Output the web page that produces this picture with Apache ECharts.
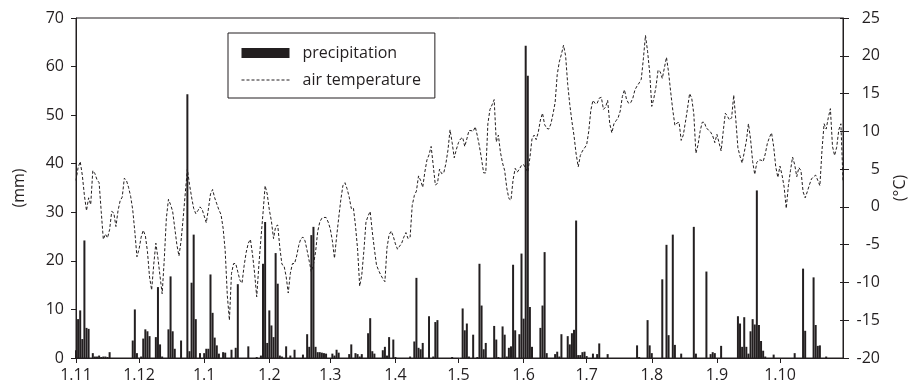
<!DOCTYPE html>
<html><head><meta charset="utf-8">
<script src="https://cdn.jsdelivr.net/npm/echarts@6/dist/echarts.min.js"></script>
<style>html,body{margin:0;padding:0;background:#fff}#c{width:916px;height:389px}</style>
</head><body><div id="c"></div>
<script>
// Daily record, 1 Nov 2007 – 31 Oct 2008 (366 days)
const startYear = 2007, startMonthIndex = 10, startDay = 1, dayCount = 366;
const tickLabels = ['1.11','1.12','1.1','1.2','1.3','1.4','1.5','1.6','1.7','1.8','1.9','1.10'];

const precipitation = [
1.6,8.0,9.8,3.9,24.2,6.2,6.0,0,1.0,0.3,
0.3,0.5,0.2,0.3,0.3,0.2,1.2,0,0,0,
0,0,0,0,0,0,0,3.6,10.0,1.0,
0,0.3,4.0,5.9,5.5,4.5,0,0,4.3,14.6,
2.8,0.3,0,0,5.9,16.8,5.5,1.9,0,0,
3.6,0,0,54.3,1.4,15.5,25.4,8.0,0,1.0,
0,1.0,1.9,1.9,17.2,9.3,4.2,2.6,0.9,0,
1.2,1.1,0,0,1.7,0,2.1,15.2,0,0,
0,0,2.4,0,0,0,0.2,0,0.5,19.4,
28.0,3.1,9.8,6.7,4.3,21.6,15.3,0.5,0.3,0,
2.4,0,0.5,0,1.7,0,0,0,0.7,0,
4.9,2.3,25.3,27.0,2.3,1.2,1.2,1.1,1.0,0.9,
0,0,0.9,0.5,1.7,1.1,0,0,0,0,
0.8,2.8,0,1.0,0.8,0.3,0.8,0,0,5.1,
8.2,1.4,0.9,0,0,0,1.6,2.3,0.5,4.3,
0,3.8,0.2,0,0,0,0,0,0,0.3,
0,3.4,16.5,2.1,1.8,3.1,0,0,8.6,0,
0.3,7.4,7.8,0,0,0,0,0,0,0.2,
0,0,0,0,10.2,5.7,7.1,0.3,0,4.8,
0,0.2,19.4,10.8,1.8,3.1,0,0,0,6.6,
3.8,0.2,0,6.5,4.8,0.3,2.1,2.4,19.2,5.7,
0,4.9,21.5,8.1,64.3,58.1,10.5,2.3,0,0,
0,6.2,10.8,21.8,1.0,0,0,0,0.8,1.3,
0.3,4.9,0,0,4.5,2.8,5.1,5.8,28.3,0.6,
0.6,1.2,1.3,0.4,0,0,0.9,0,0.8,3.0,
0,0,0,0.8,0,0,0,0,0,0,
0,0,0,0,0,0,0,2.6,0.2,0,
0,0,7.8,2.6,1.0,0,0,0,0,16.2,
0,23.3,4.7,0,25.4,2.7,0,0,0.9,0,
0,0,0,0,27.0,0.9,0,0,0,0,
17.8,0,0.8,1.2,1.0,0,0,2.5,0,0,
0,0,0,0,0,8.6,7.1,2.3,8.4,2.3,
0.9,5.5,8.0,6.9,34.5,6.8,3.5,1.5,0.3,0,
0,0,0.7,0,0,0,0,0,0,0,
0,0,1.0,0,0,0,18.4,5.6,0,0,
0,16.6,6.8,2.5,2.6,0,0,0.3,0,0,
0,0,0,0,0,0
];

const airTemperature = [
3.5,5.2,6.0,4.2,1.5,-0.5,1.2,0.3,4.8,4.4,
3.6,3.2,-0.6,-4.3,-3.6,-4.1,-3.0,-0.6,-0.8,-2.6,
-0.5,0.8,1.3,3.8,3.5,2.6,1.4,-0.4,-3.3,-6.6,
-5.6,-4.0,-3.1,-3.8,-5.9,-9.3,-11.0,-7.6,-4.8,-6.8,
-9.2,-11.5,-7.0,-1.5,1.0,0.3,-0.6,-2.8,-5.0,-6.5,
-4.5,-1.5,1.8,5.0,3.0,1.3,-0.2,-0.9,-0.5,0.0,
-0.3,-1.2,-2.1,-0.3,1.7,2.3,1.2,0.4,-0.4,-1.0,
-2.8,-5.8,-11.7,-15.0,-8.8,-7.5,-7.5,-8.6,-9.7,-10.1,
-7.8,-6.0,-4.8,-4.3,-6.3,-8.8,-11.9,-7.8,-4.2,-0.8,
2.8,1.7,-0.4,-1.9,-4.2,-2.6,-2.4,-5.4,-7.6,-7.8,
-9.2,-11.4,-8.8,-7.5,-7.5,-6.5,-5.1,-4.2,-4.0,-4.5,
-5.8,-7.2,-8.6,-7.6,-6.0,-3.3,-2.0,-1.5,-1.4,-1.4,
-2.0,-2.9,-4.5,-6.8,-4.0,-1.5,0.9,2.8,3.2,2.4,
1.3,-0.2,-0.1,-2.5,-5.6,-10.5,-9.0,-5.8,-2.0,-1.2,
-0.6,-3.3,-5.6,-7.7,-8.4,-9.0,-9.5,-9.9,-5.4,-3.7,
-3.2,-3.9,-4.9,-5.6,-5.2,-4.8,-4.0,-3.4,-4.2,-4.0,
0.2,1.5,2.1,4.1,3.5,2.6,4.6,6.2,6.9,8.0,
5.5,2.9,3.1,5.0,4.4,4.5,5.7,7.5,10.2,8.5,
6.5,7.6,8.5,9.0,9.2,8.0,9.0,10.1,10.1,10.0,
10.6,9.4,8.0,6.3,4.5,4.5,11.0,12.9,13.5,14.2,
8.6,9.5,7.2,5.8,4.8,2.5,1.1,0.9,3.6,5.1,
4.6,5.0,5.5,5.6,5.1,4.6,6.5,9.0,9.5,8.9,
9.9,11.5,12.4,10.9,10.4,10.3,11.0,12.3,13.8,17.5,
19.2,20.2,21.4,20.0,16.2,13.5,11.3,9.4,7.0,5.3,
6.8,7.4,7.8,8.2,10.0,12.8,14.1,13.7,13.7,14.4,
14.5,12.9,13.2,14.1,11.0,9.8,11.0,11.4,11.8,12.7,
14.6,15.5,14.2,13.7,13.8,14.4,15.5,16.0,16.4,16.9,
19.6,22.7,20.6,17.8,13.3,14.4,15.9,18.1,17.9,17.0,
18.4,19.8,17.8,15.2,12.8,10.8,11.1,11.2,8.8,9.5,
11.2,13.0,15.0,14.4,12.3,7.1,8.2,10.0,11.2,11.2,
10.4,10.2,9.9,9.4,8.5,9.6,8.5,7.4,10.0,12.4,
12.0,11.5,11.8,14.8,11.5,7.8,6.7,5.8,7.2,8.7,
11.0,9.0,6.0,4.3,5.9,6.2,6.2,6.0,7.0,8.4,
9.2,9.8,8.0,5.3,3.9,5.4,4.2,2.6,-0.2,2.8,
4.8,6.6,5.6,4.0,5.2,4.8,2.0,1.2,2.0,2.9,
3.7,4.0,4.2,3.5,2.8,7.5,11.0,10.3,11.8,13.0,
8.0,6.8,7.9,10.2,11.0,3.5
];

const categories = [];
for (let i = 0; i < dayCount; i++) {
  const d = new Date(Date.UTC(startYear, startMonthIndex, startDay + i));
  categories.push(d.getUTCDate() + '.' + (d.getUTCMonth() + 1));
}
const tickSet = new Set(tickLabels);
const ink = '#231f20';
const font = "'Open Sans', 'Noto Sans', sans-serif";
const fs = 16;

const chart = echarts.init(document.getElementById('c'), null, {renderer: 'canvas'});
chart.setOption({
  animation: false,
  backgroundColor: '#fff',
  textStyle: {fontFamily: font, color: ink},
  grid: {left: 76, right: 73, top: 18, bottom: 31, show: true, borderColor: ink, borderWidth: 1, backgroundColor: 'transparent'},
  legend: {
    orient: 'vertical', left: 228, top: 33, padding: [12, 14, 10, 13],
    borderColor: ink, borderWidth: 1, itemWidth: 48, itemHeight: 10, itemGap: 11,
    textStyle: {color: ink, fontSize: fs, fontFamily: font, padding: [0, 0, 0, 8]},
    data: [
      {name: 'precipitation', icon: 'rect'},
      {name: 'air temperature', itemStyle: {opacity: 0}, lineStyle: {color: ink, width: 1, type: [3, 2], opacity: 1}}
    ]
  },
  xAxis: {
    type: 'category', data: categories, boundaryGap: false,
    axisLine: {lineStyle: {color: ink, width: 1}},
    axisTick: {interval: (i, v) => tickSet.has(v), length: 5, lineStyle: {color: ink}},
    axisLabel: {interval: (i, v) => tickSet.has(v), color: ink, fontSize: fs, fontFamily: font, margin: 9},
    splitLine: {show: false}
  },
  yAxis: [
    {type: 'value', min: 0, max: 70, interval: 10, position: 'left',
     name: '(mm)', nameLocation: 'middle', nameGap: 49,
     nameTextStyle: {color: ink, fontSize: fs, fontFamily: font},
     axisLine: {show: true, lineStyle: {color: ink}},
     axisTick: {show: true, length: 5, lineStyle: {color: ink}},
     axisLabel: {color: ink, fontSize: fs, fontFamily: font, margin: 12},
     splitLine: {show: false}},
    {type: 'value', min: -20, max: 25, interval: 5, position: 'right',
     name: '(°C)', nameLocation: 'middle', nameGap: 49,
     nameTextStyle: {color: ink, fontSize: fs, fontFamily: font},
     axisLine: {show: true, lineStyle: {color: ink}},
     axisTick: {show: true, length: 6, lineStyle: {color: ink}},
     axisLabel: {color: ink, fontSize: fs, fontFamily: font, margin: 37, align: 'right'},
     splitLine: {show: false}},
    {type: 'value', min: -20, max: 25, interval: 5, position: 'right',
     axisLine: {show: false}, axisTick: {show: true, inside: true, length: 3, lineStyle: {color: ink}},
     axisLabel: {show: false}, splitLine: {show: false}}
  ],
  series: [
    {name: 'precipitation', type: 'bar', data: precipitation, yAxisIndex: 0, barWidth: 2, clip: false,
     itemStyle: {color: ink}},
    {name: 'air temperature', type: 'line', data: airTemperature, yAxisIndex: 1, symbol: 'none',
     itemStyle: {color: ink}, lineStyle: {color: ink, width: 1, type: [3, 2]}}
  ]
});
</script></body></html>
